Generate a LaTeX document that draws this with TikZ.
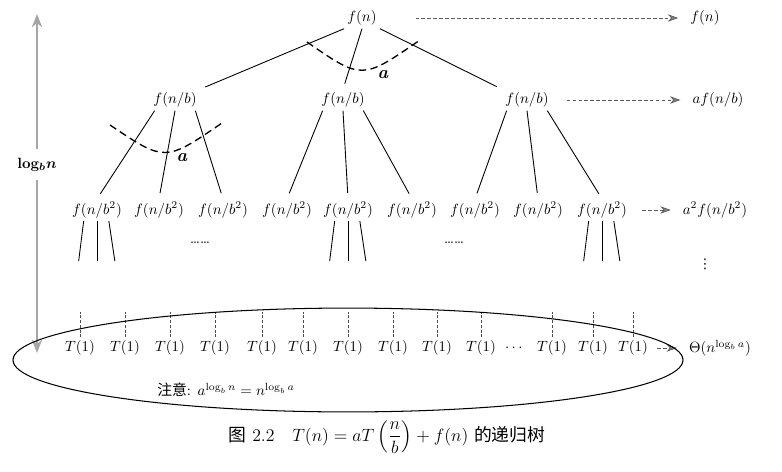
\documentclass[tikz,border=0pt]{standalone}
\usepackage{fontspec}
\usepackage{amsmath}
\usepackage{bm}
\newfontfamily\cjk{Noto Sans CJK SC}
\newfontfamily\symb{DejaVu Sans}
\usetikzlibrary{arrows.meta}
\tikzset{
  lvl/.style={inner sep=2pt},
  branch/.style={line width=0.6pt, shorten >=4pt},
  stub/.style={line width=0.6pt},
  darr/.style={dash pattern=on 2.5pt off 1.5pt, draw=black!65,
    -{Stealth[length=7pt,width=5pt,fill=black!50]}, shorten >=6pt},
  sweep/.style={dash pattern=on 5pt off 3pt, line width=0.9pt},
  drop/.style={dash pattern=on 2pt off 1.2pt, line width=0.5pt, black!70},
  axis/.style={draw=black!35, line width=0.7pt, -{Stealth[length=9pt,width=7pt]}}
}
\begin{document}
\begin{tikzpicture}[x=0.674pt, y=-0.674pt]
	\useasboundingbox (0,0) rectangle (782,472);
	% levels of the tree
	\node[lvl] (root) at (362,18) {$f(n)$};
	\node[lvl] (fa) at (175,100) {$f(n/b)$};
	\node[lvl] (fb) at (343,100) {$f(n/b)$};
	\node[lvl] (fc) at (527,100) {$f(n/b)$};
	\foreach \x [count=\i] in {97,159,223,287,348,412,475,538,602}
		\node[lvl] (g\i) at (\x,210) {$f(n/b^2)$};
	\node (d1) at (200,243) {\ldots\ldots};
	\node (d2) at (454,243) {\ldots\ldots};
	\foreach \x [count=\i] in {80,125,170,215,262,303,348,393,437,481,552,593,633}{
		\node[lvl] (t\i) at (\x,348) {$T(1)$};
		\draw[drop] (t\i.north) -- ++(0,-25);}
	\node (tdots) at (515,348) {$\cdots$};
	% sums per level
	\node[lvl] (s0) at (705,18) {$f(n)$};
	\node[lvl] (s1) at (718,100) {$af(n/b)$};
	\node[lvl] (s2) at (715,210) {$a^2f(n/b^2)$};
	\node (vd) at (705,264) {\symb\small ⋮};
	\node[lvl] (s3) at (720,348) {$\Theta(n^{\log_b a})$};
	% branches
	\draw[branch] (root.south west) -- (fa.north east);
	\draw[branch] (root.south) -- (fb.north);
	\draw[branch] (root.south east) -- (fc.north west);
	\foreach \p/\l/\m/\r in {fa/1/2/3, fb/4/5/6, fc/7/8/9}{
		\draw[branch] ([xshift=3pt]\p.south west) -- (g\l.north);
		\draw[branch] (\p.south) -- (g\m.north);
		\draw[branch] ([xshift=-3pt]\p.south east) -- (g\r.north);}
	\foreach \g in {g1,g5,g9}{
		\draw[stub] ([xshift=-9pt]\g.south) -- ++(-5,40);
		\draw[stub] (\g.south) -- ++(0,40);
		\draw[stub] ([xshift=8pt]\g.south) -- ++(6,40);}
	% fan-out marks
	\draw[sweep] (307,42) .. controls (362,80) .. (420,40);
	\node (a0) at (383,75) {\large\textbf{\textit{a}}};
	\draw[sweep] (110,125) .. controls (165,162) .. (222,123);
	\node (a1) at (182,158) {\large\textbf{\textit{a}}};
	% arrows to the sums
	\draw[darr] ([xshift=24pt]root.east) -- (s0.west);
	\draw[darr] ([xshift=10pt]fc.east) -- (s1.west);
	\draw[darr] ([xshift=8pt]g9.east) -- (s2.west);
	\draw[darr] ([xshift=4pt]t13.east) -- (s3.west);
	% height
	\node (lg) at (37,165) {\textbf{log}$_{\bm b}\bm n$};
	\coordinate (top) at (37,14);
	\coordinate (bot) at (37,353);
	\draw[axis, shorten <=3pt] (lg.north) -- (top);
	\draw[axis, shorten <=2pt] (lg.south) -- (bot);
	% leaves
	\draw[line width=0.7pt] (348,360) ellipse [x radius=225.8pt, y radius=35pt];
	\node (nt) at (226,390) {{\cjk 注意}: $a^{\log_b n}=n^{\log_b a}$};
	\node (cap) at (387,437) {\large{\cjk 图}~2.2\quad $T(n)=aT\left(\dfrac{n}{b}\right)+f(n)$ {\cjk 的递归树}};
\end{tikzpicture}
\end{document}
